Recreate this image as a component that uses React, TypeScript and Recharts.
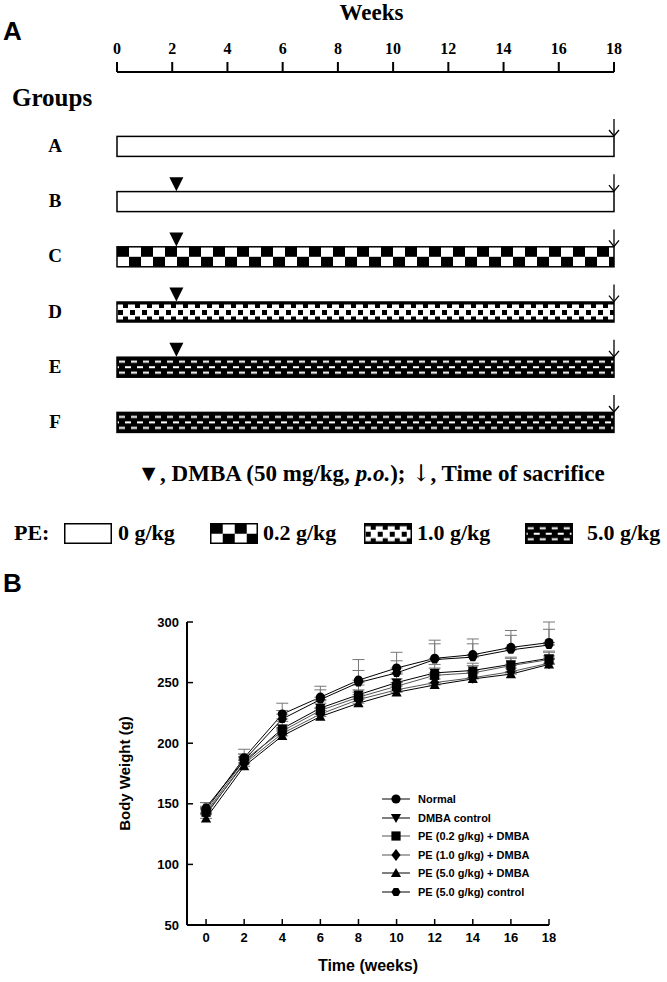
import React from 'react'
import { ComposedChart, LineChart, Bar, Line, XAxis, YAxis, ErrorBar } from 'recharts'

const SERIF = '"Liberation Serif", "Times New Roman", serif'
const SANS = '"Liberation Sans", Arial, sans-serif'

// ---- Panel A: study schedule ----
const GROUPS = ['A', 'B', 'C', 'D', 'E', 'F']
const DURATION = [18, 18, 18, 18, 18, 18]
const DMBA_WEEK = [null, 2.15, 2.15, 2.15, 2.15, null]
const SACRIFICE_WEEK = [18, 18, 18, 18, 18, 18]
const GROUP_DOSE = ['0', '0', '0.2', '1.0', '5.0', '5.0']
const WEEK_TICKS = [0, 2, 4, 6, 8, 10, 12, 14, 16, 18]

// ---- Panel B: body weight ----
const TIME = [0, 2, 4, 6, 8, 10, 12, 14, 16, 18]
const NORMAL = [145, 188, 224, 238, 252, 262, 270, 273, 279, 283]
const NORMAL_SD = [6, 7, 9, 9, 17, 13, 15, 13, 14, 17]
const DMBA_CONTROL = [141, 184, 212, 229, 240, 250, 258, 260, 265, 270]
const DMBA_CONTROL_SD = [5, 5, 6, 6, 8, 7, 7, 6, 6, 6]
const PE02_DMBA = [143, 186, 210, 227, 238, 247, 256, 258, 264, 269]
const PE02_DMBA_SD = [5, 5, 5, 6, 6, 6, 6, 6, 6, 6]
const PE10_DMBA = [142, 183, 208, 224, 236, 244, 250, 254, 259, 266]
const PE10_DMBA_SD = [4, 5, 5, 5, 6, 6, 6, 5, 6, 6]
const PE50_DMBA = [138, 181, 206, 222, 233, 242, 248, 253, 257, 265]
const PE50_DMBA_SD = [4, 5, 5, 5, 5, 6, 5, 5, 5, 5]
const PE50_CONTROL = [147, 186, 220, 236, 250, 258, 269, 271, 277, 281]
const PE50_CONTROL_SD = [4, 5, 7, 8, 10, 10, 13, 11, 12, 13]

const DOSE_KEY: Record<string, string> = { '0': 'd0', '0.2': 'd02', '1.0': 'd10', '5.0': 'd50' }

const scheduleData = GROUPS.map((g, i) => ({
  group: g,
  weeks: DURATION[i],
  dmba: DMBA_WEEK[i],
  sacrifice: SACRIFICE_WEEK[i],
  dose: GROUP_DOSE[i],
}))

const SERIES = [
  { key: 'normal', name: 'Normal', values: NORMAL, sd: NORMAL_SD, shape: 'circle', color: '#000' },
  { key: 'dmbaControl', name: 'DMBA control', values: DMBA_CONTROL, sd: DMBA_CONTROL_SD, shape: 'triangleDown', color: '#000' },
  { key: 'pe02', name: 'PE (0.2 g/kg) + DMBA', values: PE02_DMBA, sd: PE02_DMBA_SD, shape: 'square', color: '#555' },
  { key: 'pe10', name: 'PE (1.0 g/kg) + DMBA', values: PE10_DMBA, sd: PE10_DMBA_SD, shape: 'diamond', color: '#555' },
  { key: 'pe50', name: 'PE (5.0 g/kg) + DMBA', values: PE50_DMBA, sd: PE50_DMBA_SD, shape: 'triangleUp', color: '#000' },
  { key: 'pe50c', name: 'PE (5.0 g/kg) control', values: PE50_CONTROL, sd: PE50_CONTROL_SD, shape: 'hexagon', color: '#000' },
]

const weightData = TIME.map((w, i) => {
  const row: any = { week: w }
  SERIES.forEach((s) => {
    row[s.key] = s.values[i]
    row[`${s.key}Err`] = [0, s.sd[i]]
  })
  return row
})

function PatternDefs({ prefix }: { prefix: string }) {
  return (
    <defs>
      <pattern id={`${prefix}-d02`} width={24} height={20} patternUnits="userSpaceOnUse">
        <rect width={24} height={20} fill="#fff" />
        <rect x={0} y={0} width={12} height={10} fill="#000" />
        <rect x={12} y={10} width={12} height={10} fill="#000" />
      </pattern>
      <pattern id={`${prefix}-d10`} width={12} height={20} patternUnits="userSpaceOnUse">
        <rect width={12} height={20} fill="#fff" />
        <rect x={0} y={0} width={12} height={2.5} fill="#000" />
        <rect x={6} y={2} width={5} height={4} fill="#000" />
        <rect x={1} y={8} width={5} height={5} fill="#000" />
        <rect x={6} y={14.5} width={5} height={3.5} fill="#000" />
        <rect x={0} y={17.5} width={12} height={2.5} fill="#000" />
      </pattern>
      <pattern id={`${prefix}-d50`} width={12} height={20} patternUnits="userSpaceOnUse">
        <rect width={12} height={20} fill="#000" />
        <rect x={2} y={3.5} width={6} height={2} fill="#fff" />
        <rect x={8} y={9} width={6} height={2} fill="#fff" />
        <rect x={-4} y={9} width={6} height={2} fill="#fff" />
        <rect x={2} y={14.5} width={6} height={2} fill="#fff" />
      </pattern>
    </defs>
  )
}

function doseFill(prefix: string, dose: string) {
  return dose === '0' ? '#fff' : `url(#${prefix}-${DOSE_KEY[dose]})`
}

function PatternBar(props: any) {
  const { x, y, width, height, payload } = props
  return (
    <g transform={`translate(${x},${y})`}>
      <rect width={width} height={height} fill={doseFill('pa', payload.dose)} stroke="#000" strokeWidth={1.5} />
    </g>
  )
}

function DmbaMark(props: any) {
  const { cx, cy, value, index } = props
  if (value == null || cx == null || cy == null) return <g key={`dm-${index}`} />
  return (
    <polygon
      key={`dm-${index}`}
      points={`${cx - 7},${cy - 24} ${cx + 7},${cy - 24} ${cx},${cy - 10}`}
      fill="#000"
    />
  )
}

function SacrificeMark(props: any) {
  const { cx, cy, value, index } = props
  if (value == null || cx == null || cy == null) return <g key={`sc-${index}`} />
  return (
    <g key={`sc-${index}`} stroke="#000" strokeWidth={1.3} fill="none">
      <line x1={cx} y1={cy - 27} x2={cx} y2={cy - 10} />
      <polyline points={`${cx - 5},${cy - 16} ${cx},${cy - 10} ${cx + 5},${cy - 16}`} />
    </g>
  )
}

function GroupTick(props: any) {
  const { y, payload } = props
  return (
    <text x={55} y={y} dy={6} textAnchor="middle" fill="#000" fontFamily={SERIF} fontWeight={700} fontSize={19}>
      {payload.value}
    </text>
  )
}

function Marker({ shape, cx, cy, color }: { shape: string; cx: number; cy: number; color: string }) {
  const r = 4.6
  if (shape === 'circle') return <circle cx={cx} cy={cy} r={r} fill={color} />
  if (shape === 'square') return <rect x={cx - r} y={cy - r} width={2 * r} height={2 * r} fill={color} />
  if (shape === 'diamond')
    return <polygon points={`${cx},${cy - r - 1.5} ${cx + r},${cy} ${cx},${cy + r + 1.5} ${cx - r},${cy}`} fill={color} />
  if (shape === 'triangleUp')
    return <polygon points={`${cx - r - 0.5},${cy + r - 0.5} ${cx + r + 0.5},${cy + r - 0.5} ${cx},${cy - r - 0.5}`} fill={color} />
  if (shape === 'triangleDown')
    return <polygon points={`${cx - r - 0.5},${cy - r + 0.5} ${cx + r + 0.5},${cy - r + 0.5} ${cx},${cy + r + 0.5}`} fill={color} />
  const pts = [0, 1, 2, 3, 4, 5]
    .map((k) => {
      const a = (Math.PI / 3) * k
      return `${cx + r * Math.cos(a)},${cy + r * Math.sin(a)}`
    })
    .join(' ')
  return <polygon points={pts} fill={color} />
}

function WeightLegend() {
  return (
    <div style={{ position: 'absolute', left: 380, top: 790, fontFamily: SANS, fontWeight: 700, fontSize: 11 }}>
      {SERIES.map((s) => (
        <div key={s.key} style={{ display: 'flex', alignItems: 'center', height: 18.5 }}>
          <svg width={38} height={12} style={{ display: 'block' }}>
            <line x1={2} y1={6} x2={30} y2={6} stroke={s.color} strokeWidth={1} />
            <Marker shape={s.shape} cx={16} cy={6} color="#000" />
          </svg>
          <span>{s.name}</span>
        </div>
      ))}
    </div>
  )
}

const LEGEND_ITEMS = [
  { dose: '0', box: 64, text: 118 },
  { dose: '0.2', box: 210, text: 263 },
  { dose: '1.0', box: 364, text: 417 },
  { dose: '5.0', box: 525, text: 587 },
]

function DoseLegend() {
  const textStyle: React.CSSProperties = {
    position: 'absolute',
    top: 520,
    fontFamily: SERIF,
    fontWeight: 700,
    fontSize: 22,
    lineHeight: '26px',
    whiteSpace: 'nowrap',
  }
  return (
    <>
      <div style={{ ...textStyle, left: 14 }}>PE:</div>
      {LEGEND_ITEMS.map((it) => (
        <React.Fragment key={it.dose}>
          <svg width={48} height={21} style={{ position: 'absolute', left: it.box, top: 523 }}>
            <PatternDefs prefix={`lg${DOSE_KEY[it.dose]}`} />
            <g transform="translate(0.75,0.75)">
              <rect width={46.5} height={19.5} fill={doseFill(`lg${DOSE_KEY[it.dose]}`, it.dose)} stroke="#000" strokeWidth={1.5} />
            </g>
          </svg>
          <div style={{ ...textStyle, left: it.text }}>{it.dose} g/kg</div>
        </React.Fragment>
      ))}
    </>
  )
}

const ARROW = (
  <span style={{ fontFamily: '"DejaVu Serif", "DejaVu Sans", serif', fontWeight: 400, color: '#000' }}>{'\u2193\uFE0E'}</span>
)

export default function App() {
  return (
    <div style={{ position: 'absolute', left: 0, top: 0, width: 667, height: 982, background: '#fff', overflow: 'hidden' }}>
      {/* Panel A */}
      <div style={{ position: 'absolute', left: 3, top: 16, fontFamily: SANS, fontWeight: 700, fontSize: 26 }}>A</div>
      <div style={{ position: 'absolute', left: 12, top: 84, fontFamily: SERIF, fontWeight: 700, fontSize: 25 }}>Groups</div>
      <div style={{ position: 'absolute', left: 0, top: 0 }}>
        <ComposedChart
          width={667}
          height={460}
          data={scheduleData}
          layout="vertical"
          margin={{ top: 0, right: 53, bottom: 10.4, left: 0 }}
        >
          <PatternDefs prefix="pa" />
          <XAxis
            type="number"
            orientation="top"
            domain={[0, 18]}
            ticks={WEEK_TICKS}
            height={72}
            tickSize={10}
            tickMargin={8}
            axisLine={{ stroke: '#000', strokeWidth: 2 }}
            tickLine={{ stroke: '#000', strokeWidth: 2 }}
            tick={{ fill: '#000', fontFamily: SERIF, fontWeight: 700, fontSize: 16 }}
            label={{ value: 'Weeks', position: 'insideTop', offset: 4, dx: 6, fill: '#000', fontFamily: SERIF, fontWeight: 700, fontSize: 23 }}
          />
          <YAxis
            type="category"
            dataKey="group"
            width={117}
            axisLine={false}
            tickLine={false}
            tick={<GroupTick />}
            padding={{ top: 46.4, bottom: 0 }}
          />
          <Bar dataKey="weeks" barSize={20} shape={<PatternBar />} isAnimationActive={false} />
          <Line dataKey="dmba" stroke="none" dot={(p: any) => <DmbaMark {...p} />} activeDot={false} isAnimationActive={false} legendType="none" />
          <Line dataKey="sacrifice" stroke="none" dot={(p: any) => <SacrificeMark {...p} />} activeDot={false} isAnimationActive={false} legendType="none" />
        </ComposedChart>
      </div>
      <div
        style={{
          position: 'absolute',
          left: 0,
          width: 742,
          top: 460,
          textAlign: 'center',
          fontFamily: SERIF,
          fontWeight: 700,
          fontSize: 23,
          whiteSpace: 'nowrap',
          color: '#000',
        }}
      >
        ▼, DMBA (50 mg/kg, <i>p.o.</i>); {ARROW}, Time of sacrifice
      </div>
      <DoseLegend />

      {/* Panel B */}
      <div style={{ position: 'absolute', left: 3, top: 568, fontFamily: SANS, fontWeight: 700, fontSize: 26 }}>B</div>
      <div style={{ position: 'absolute', left: 0, top: 560 }}>
        <LineChart width={667} height={422} data={weightData} margin={{ top: 62, right: 118, bottom: 22, left: 0 }}>
          <XAxis
            type="number"
            dataKey="week"
            domain={[-1, 18]}
            ticks={TIME}
            height={35}
            tickSize={-6}
            tickMargin={14}
            axisLine={{ stroke: '#000', strokeWidth: 2 }}
            tickLine={{ stroke: '#000', strokeWidth: 1.5 }}
            tick={{ fill: '#000', fontFamily: SANS, fontWeight: 700, fontSize: 13 }}
            label={{ value: 'Time (weeks)', position: 'bottom', offset: 0, fill: '#000', fontFamily: SANS, fontWeight: 700, fontSize: 16 }}
          />
          <YAxis
            type="number"
            domain={[50, 300]}
            ticks={[50, 100, 150, 200, 250, 300]}
            width={187}
            tickSize={-6}
            tickMargin={14}
            axisLine={{ stroke: '#000', strokeWidth: 2 }}
            tickLine={{ stroke: '#000', strokeWidth: 1.5 }}
            tick={{ fill: '#000', fontFamily: SANS, fontWeight: 700, fontSize: 13 }}
            label={{ value: 'Body Weight (g)', angle: -90, position: 'center', dx: 31, fill: '#000', fontFamily: SANS, fontWeight: 700, fontSize: 15 }}
          />
          {SERIES.map((s) => (
            <Line
              key={s.key}
              dataKey={s.key}
              name={s.name}
              stroke={s.color}
              strokeWidth={1}
              isAnimationActive={false}
              activeDot={false}
              dot={(p: any) => (
                <Marker key={`${s.key}-${p.index}`} shape={s.shape} cx={p.cx} cy={p.cy} color="#000" />
              )}
            >
              <ErrorBar dataKey={`${s.key}Err`} direction="y" width={6} stroke="#777" strokeWidth={1} />
            </Line>
          ))}
        </LineChart>
      </div>
      <WeightLegend />
    </div>
  )
}
